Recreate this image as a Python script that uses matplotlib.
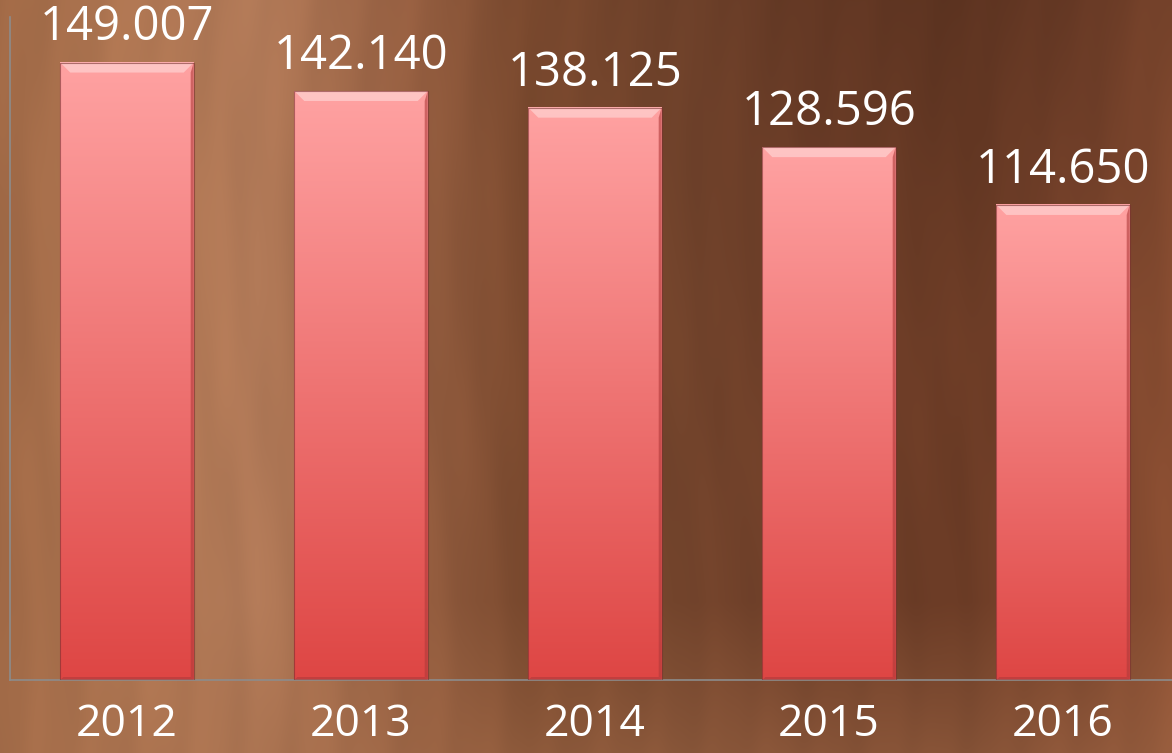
"""
Bar chart 2012-2016 on a wood-like background, with gradient bevelled bars.
"""
import matplotlib.pyplot as plt
import numpy as np
from matplotlib.patches import Polygon

years = ["2012", "2013", "2014", "2015", "2016"]
values = [149007, 142140, 138125, 128596, 114650]
value_labels = ["149.007", "142.140", "138.125", "128.596", "114.650"]

W, H = 1172, 753
BAR_WIDTH = 0.57
BAR_TOP = np.array([255, 162, 162]) / 255.0
BAR_BOTTOM = np.array([222, 70, 68]) / 255.0


def _wood_background() -> np.ndarray:
    xs = np.linspace(0, 1, W)
    ys = np.linspace(0, 1, H)[:, None]
    stops = [0.0, 0.1, 0.22, 0.35, 0.45, 0.58, 0.7, 0.82, 0.92, 1.0]
    r = np.interp(xs, stops, [160, 175, 178, 150, 122, 115, 110, 108, 122, 138])
    g = np.interp(xs, stops, [105, 118, 122, 95, 73, 68, 62, 60, 68, 78])
    b = np.interp(xs, stops, [70, 82, 88, 65, 46, 44, 40, 38, 44, 50])
    base = np.stack([r, g, b], axis=-1)[None, :, :] * np.ones((H, 1, 1))
    # lighter towards the bottom, darker at the top right
    light = np.clip((ys - 0.8) / 0.2, 0, 1)[..., None]
    base = base * (1 - 0.45 * light) + np.array([165, 110, 75]) * 0.45 * light
    dark = (np.clip(1 - ys / 0.45, 0, 1) * np.clip((xs[None, :] - 0.45) / 0.4, 0, 1))[..., None]
    base = base * (1 - 0.15 * dark)
    # grain streaks
    xx = xs[None, :] * W
    yy = ys * H
    grain = (np.sin(xx / 9.0 + 3 * np.sin(yy / 140.0)) * 0.5
             + np.sin(xx / 23.0 + 2 * np.sin(yy / 90.0 + 1.3)) * 0.35
             + np.sin(xx / 4.3 + np.sin(yy / 60.0)) * 0.15)
    base = base * (1 + 0.03 * grain[..., None])
    return np.clip(base / 255.0, 0, 1)


def main() -> None:
    fig = plt.figure(figsize=(W / 100, H / 100), dpi=100)

    bg = fig.add_axes([0, 0, 1, 1], zorder=0)
    bg.imshow(_wood_background(), aspect="auto", extent=[0, 1, 0, 1])
    bg.axis("off")

    ax = fig.add_axes([10 / W, 73 / H, 1170 / W, 663 / H], zorder=1)
    ax.patch.set_alpha(0)
    x = np.arange(len(years))
    ax.set_xlim(-0.5, len(years) - 0.5)
    ax.set_ylim(0, 160000)

    # data units per pixel for bevel sizes
    dx = 1.0 / 234.0
    dy = 160000 / 663.0
    bev_x, bev_y = 10 * dx, 10 * dy

    grad = np.linspace(0, 1, 256)[:, None, None]
    colors = BAR_TOP * (1 - grad) + BAR_BOTTOM * grad
    for xi, val in zip(x, values):
        x0, x1 = xi - BAR_WIDTH / 2, xi + BAR_WIDTH / 2
        ax.imshow(colors, aspect="auto", extent=[x0, x1, 0, val],
                  zorder=2, interpolation="bilinear")
        # top bevel (lighter)
        ax.add_patch(Polygon([[x0, val], [x1, val], [x1 - bev_x, val - bev_y],
                              [x0 + bev_x, val - bev_y]], closed=True,
                             facecolor="#ffd0cf", edgecolor="none", alpha=0.75, zorder=3))
        # right bevel (darker)
        ax.add_patch(Polygon([[x1, val], [x1, 0], [x1 - 3 * dx, 3 * dy],
                              [x1 - 3 * dx, val - bev_y]], closed=True,
                             facecolor="#b03a3a", edgecolor="none", alpha=0.6, zorder=3))
        # bottom bevel
        ax.add_patch(Polygon([[x0, 0], [x1, 0], [x1 - 3 * dx, 3 * dy],
                              [x0 + 3 * dx, 3 * dy]], closed=True,
                             facecolor="#b03a3a", edgecolor="none", alpha=0.6, zorder=3))
        ax.plot([x0, x0, x1, x1], [0, val, val, 0], color="#7a3030",
                lw=0.8, alpha=0.6, zorder=4)

    for xi, val, lab in zip(x, values, value_labels):
        ax.annotate(lab, (xi, val), xytext=(0, 8), textcoords="offset points",
                    ha="center", va="bottom", color="white", fontsize=34,
                    family="Open Sans", zorder=5)

    ax.set_xticks(x)
    ax.set_xticklabels(years, color="white", fontsize=32, family="Open Sans")
    ax.tick_params(axis="x", length=0, pad=16)
    ax.set_yticks([])

    for side in ("top", "right"):
        ax.spines[side].set_visible(False)
    for side in ("left", "bottom"):
        ax.spines[side].set_color("#8c8c8c")
        ax.spines[side].set_linewidth(1.2)
    ax.spines["left"].set_bounds(0, 160000)

    fig.savefig("out.png", dpi=100)
    plt.close(fig)


if __name__ == "__main__":
    main()
